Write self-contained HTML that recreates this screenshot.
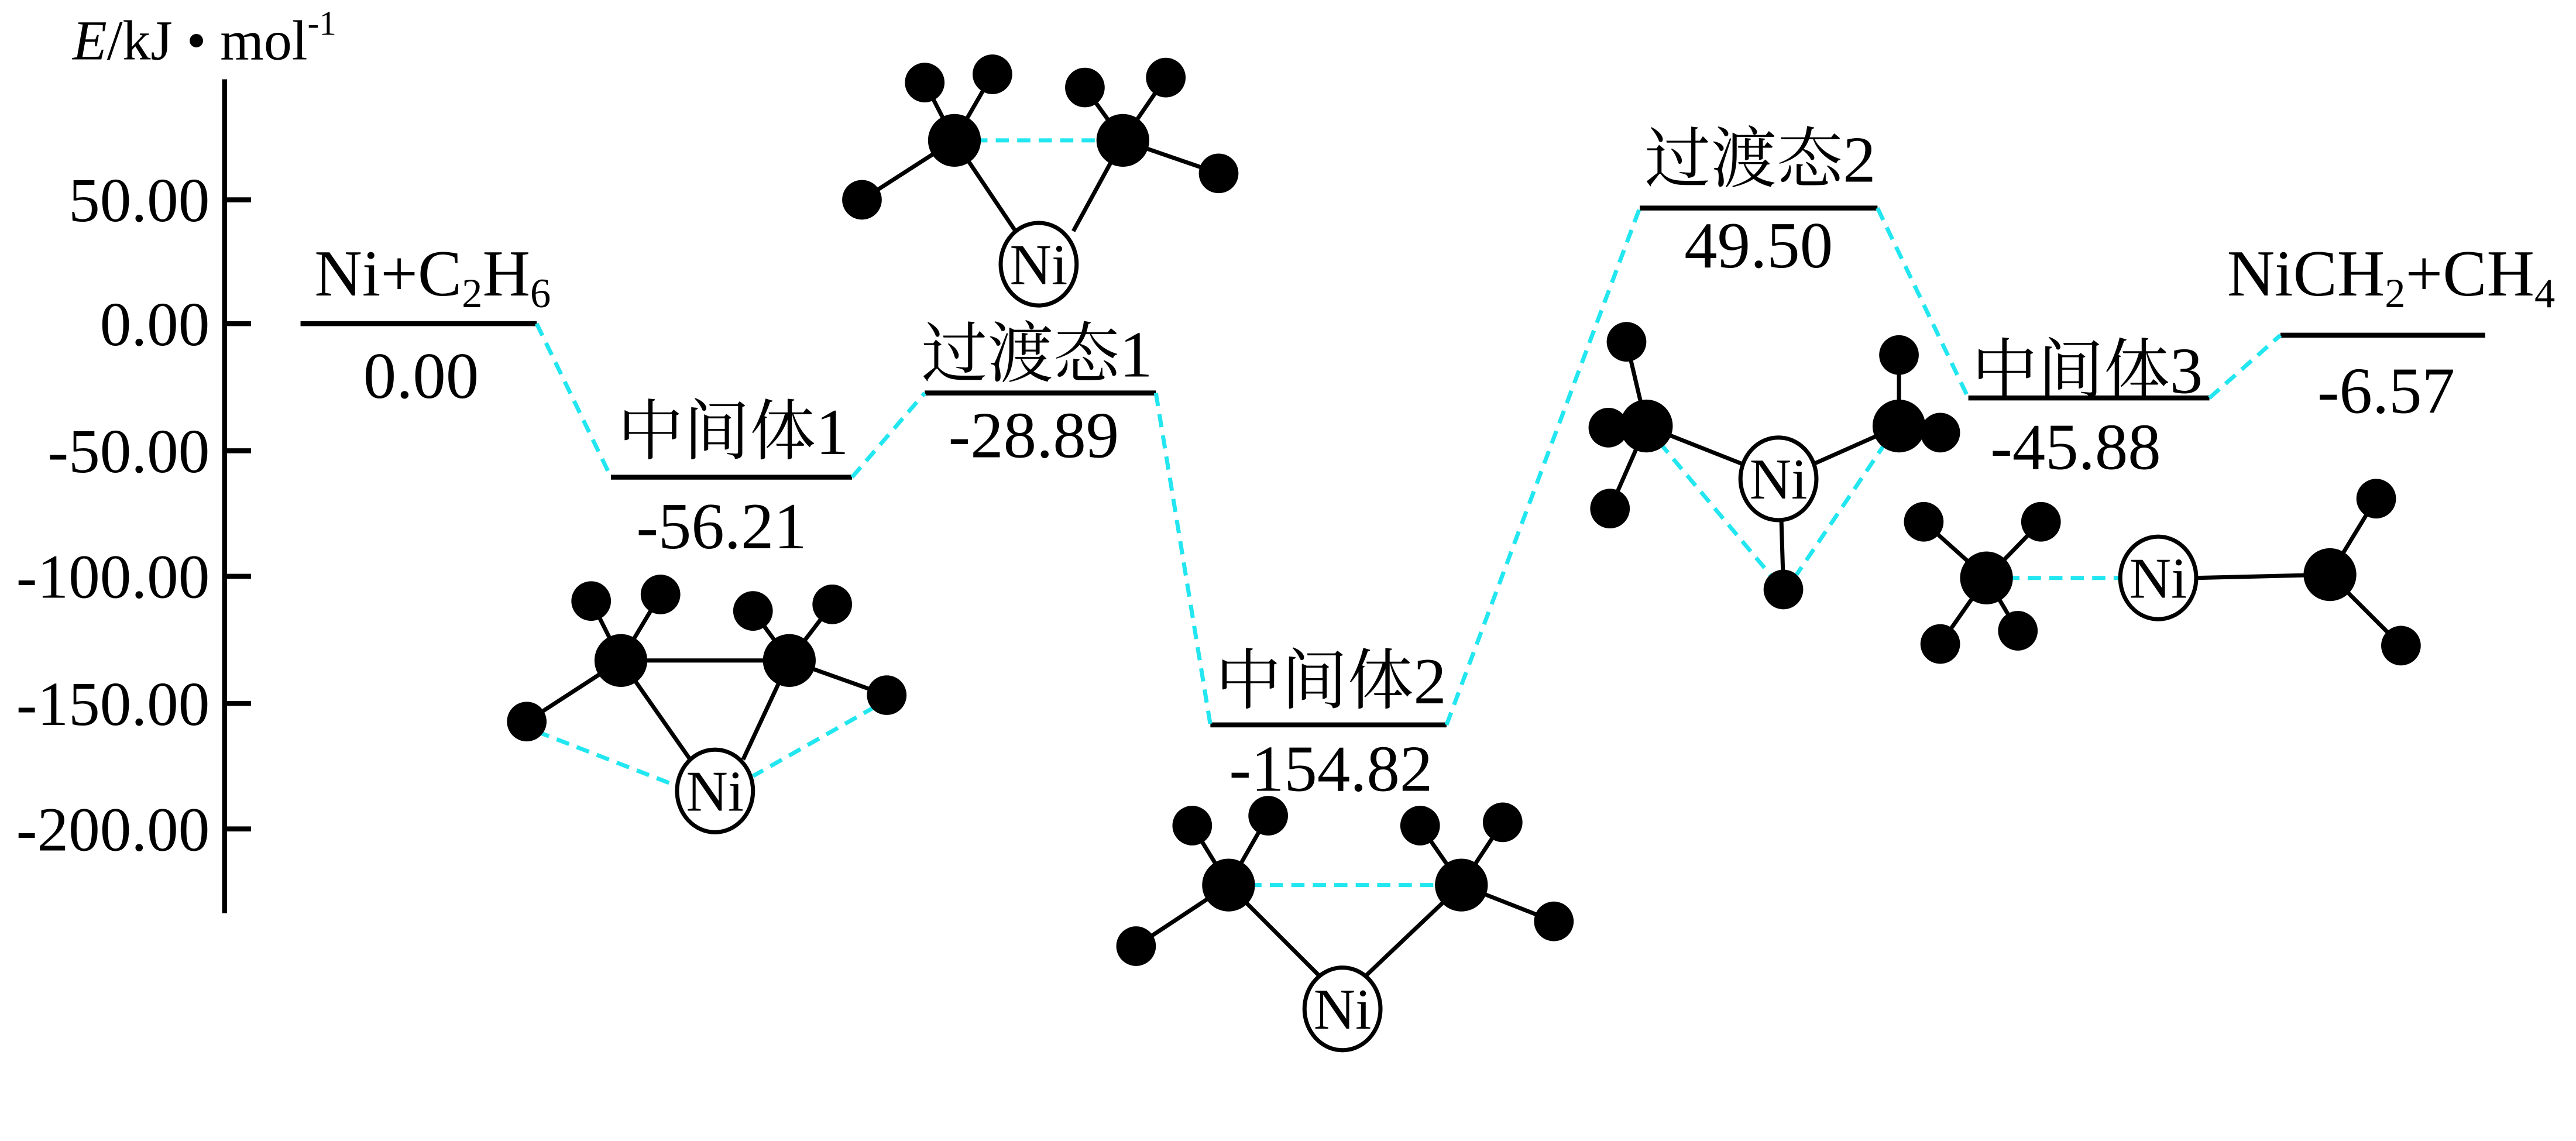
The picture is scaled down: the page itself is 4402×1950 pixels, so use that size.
<!DOCTYPE html>
<html><head><meta charset="utf-8"><style>
html,body{margin:0;padding:0;background:#fff;}
svg{display:block;}
text{font-family:"Liberation Serif","Noto Serif CJK SC","Noto Sans CJK SC",serif;fill:#000;}
.num{font-family:"Liberation Serif",serif;}
</style></head><body>
<svg width="4402" height="1950" viewBox="0 0 1560 691" preserveAspectRatio="none" xmlns="http://www.w3.org/2000/svg">
<rect width="1560" height="691" fill="#fff"/>
<!-- axis -->
<g stroke="#000" stroke-width="3">
<line x1="136" y1="48" x2="136" y2="553"/>
<line x1="136" y1="121" x2="152" y2="121"/>
<line x1="136" y1="196" x2="152" y2="196"/>
<line x1="136" y1="273" x2="152" y2="273"/>
<line x1="136" y1="349" x2="152" y2="349"/>
<line x1="136" y1="426" x2="152" y2="426"/>
<line x1="136" y1="502" x2="152" y2="502"/>
</g>
<g font-size="38" text-anchor="end" class="num">
<text class="num" x="127" y="134">50.00</text>
<text class="num" x="127" y="209">0.00</text>
<text class="num" x="127" y="286">-50.00</text>
<text class="num" x="127" y="362">-100.00</text>
<text class="num" x="127" y="439">-150.00</text>
<text class="num" x="127" y="515">-200.00</text>
</g>
<text x="44" y="36" font-size="34"><tspan font-style="italic">E</tspan>/kJ • mol<tspan font-size="21" dy="-15">-1</tspan></text>

<!-- levels -->
<g stroke="#000" stroke-width="3">
<line x1="182" y1="196" x2="325" y2="196"/>
<line x1="370" y1="289" x2="516" y2="289"/>
<line x1="560" y1="238" x2="700" y2="238"/>
<line x1="733" y1="439" x2="876" y2="439"/>
<line x1="993" y1="126" x2="1137" y2="126"/>
<line x1="1192" y1="241" x2="1338" y2="241"/>
<line x1="1381" y1="203" x2="1505" y2="203"/>
</g>
<g stroke="#22e6f0" stroke-width="2.5" stroke-dasharray="8,5" fill="none">
<line x1="325" y1="196" x2="370" y2="289"/>
<line x1="516" y1="289" x2="560" y2="238"/>
<line x1="700" y1="238" x2="733" y2="439"/>
<line x1="876" y1="439" x2="993" y2="126"/>
<line x1="1137" y1="126" x2="1192" y2="241"/>
<line x1="1338" y1="241" x2="1381" y2="203"/>
</g>
<g font-size="40" text-anchor="middle">
<text x="262" y="179">Ni+C<tspan font-size="25" dy="7">2</tspan><tspan dy="-7">H</tspan><tspan font-size="25" dy="7">6</tspan></text>
<text class="num" x="255" y="241">0.00</text>
<text x="444" y="275">中间体1</text>
<text class="num" x="437" y="332">-56.21</text>
<text x="628" y="228">过渡态1</text>
<text class="num" x="626" y="277">-28.89</text>
<text x="806" y="426">中间体2</text>
<text class="num" x="806" y="479">-154.82</text>
<text x="1066" y="110">过渡态2</text>
<text class="num" x="1065" y="162">49.50</text>
<text x="1264" y="238">中间体3</text>
<text class="num" x="1257" y="284">-45.88</text>
<text x="1448" y="179">NiCH<tspan font-size="25" dy="7">2</tspan><tspan dy="-7">+CH</tspan><tspan font-size="25" dy="7">4</tspan></text>
<text class="num" x="1445" y="250">-6.57</text>
</g>

<!-- molecule TS1 -->
<g stroke="#000" stroke-width="2.5">
<line x1="578" y1="85" x2="522" y2="121"/><line x1="578" y1="85" x2="560" y2="50"/><line x1="578" y1="85" x2="601" y2="45"/>
<line x1="680" y1="85" x2="738" y2="105"/><line x1="680" y1="85" x2="657" y2="53"/><line x1="680" y1="85" x2="706" y2="47"/>
<line x1="578" y1="85" x2="615" y2="140"/><line x1="680" y1="85" x2="650" y2="140"/>
</g>
<line x1="590" y1="85" x2="668" y2="85" stroke="#22e6f0" stroke-width="2.5" stroke-dasharray="8,5"/>
<g fill="#000">
<circle cx="578" cy="85" r="16"/><circle cx="680" cy="85" r="16"/>
<circle cx="560" cy="50" r="12"/><circle cx="601" cy="45" r="12"/><circle cx="657" cy="53" r="12"/><circle cx="706" cy="47" r="12"/>
<circle cx="522" cy="121" r="12"/><circle cx="738" cy="105" r="12"/>
</g>
<ellipse cx="629" cy="160" rx="23" ry="25" fill="#fff" stroke="#000" stroke-width="2.5"/>
<text x="629" y="172" font-size="35" text-anchor="middle">Ni</text>

<!-- molecule L1 -->
<g stroke="#000" stroke-width="2.5">
<line x1="376" y1="400" x2="478" y2="400"/>
<line x1="376" y1="400" x2="319" y2="437"/><line x1="376" y1="400" x2="358" y2="364"/><line x1="376" y1="400" x2="400" y2="360"/>
<line x1="478" y1="400" x2="537" y2="421"/><line x1="478" y1="400" x2="456" y2="370"/><line x1="478" y1="400" x2="504" y2="366"/>
<line x1="376" y1="400" x2="418" y2="460"/><line x1="478" y1="400" x2="450" y2="460"/>
</g>
<g stroke="#22e6f0" stroke-width="2.5" stroke-dasharray="8,5">
<line x1="325" y1="443" x2="410" y2="476"/><line x1="530" y1="428" x2="456" y2="470"/>
</g>
<g fill="#000">
<circle cx="376" cy="400" r="16"/><circle cx="478" cy="400" r="16"/>
<circle cx="358" cy="364" r="12"/><circle cx="400" cy="360" r="12"/><circle cx="456" cy="370" r="12"/><circle cx="504" cy="366" r="12"/>
<circle cx="319" cy="437" r="12"/><circle cx="537" cy="421" r="12"/>
</g>
<ellipse cx="433" cy="479" rx="23" ry="25" fill="#fff" stroke="#000" stroke-width="2.5"/>
<text x="433" y="491" font-size="35" text-anchor="middle">Ni</text>

<!-- molecule L2 -->
<g stroke="#000" stroke-width="2.5">
<line x1="744" y1="536" x2="688" y2="573"/><line x1="744" y1="536" x2="722" y2="500"/><line x1="744" y1="536" x2="768" y2="494"/>
<line x1="885" y1="536" x2="941" y2="558"/><line x1="885" y1="536" x2="860" y2="500"/><line x1="885" y1="536" x2="910" y2="498"/>
<line x1="744" y1="536" x2="800" y2="592"/><line x1="885" y1="536" x2="826" y2="592"/>
</g>
<line x1="756" y1="536" x2="873" y2="536" stroke="#22e6f0" stroke-width="2.5" stroke-dasharray="8,5"/>
<g fill="#000">
<circle cx="744" cy="536" r="16"/><circle cx="885" cy="536" r="16"/>
<circle cx="722" cy="500" r="12"/><circle cx="768" cy="494" r="12"/><circle cx="860" cy="500" r="12"/><circle cx="910" cy="498" r="12"/>
<circle cx="688" cy="573" r="12"/><circle cx="941" cy="558" r="12"/>
</g>
<ellipse cx="813" cy="611" rx="23" ry="25" fill="#fff" stroke="#000" stroke-width="2.5"/>
<text x="813" y="623" font-size="35" text-anchor="middle">Ni</text>

<!-- molecule TS2 -->
<g stroke="#000" stroke-width="2.5">
<line x1="997" y1="258" x2="985" y2="207"/><line x1="997" y1="258" x2="975" y2="308"/>
<line x1="1150" y1="258" x2="1150" y2="215"/>
<line x1="997" y1="258" x2="1078" y2="290"/><line x1="1150" y1="258" x2="1078" y2="290"/>
<line x1="1078" y1="290" x2="1080" y2="355"/>
</g>
<g stroke="#22e6f0" stroke-width="2.5" stroke-dasharray="8,5">
<line x1="1005" y1="268" x2="1072" y2="348"/><line x1="1142" y1="268" x2="1088" y2="348"/>
</g>
<g fill="#000">
<circle cx="974" cy="259" r="12"/><circle cx="997" cy="258" r="16"/>
<circle cx="985" cy="207" r="12"/><circle cx="975" cy="308" r="12"/>
<circle cx="1175" cy="262" r="12"/><circle cx="1150" cy="258" r="16"/>
<circle cx="1150" cy="215" r="12"/><circle cx="1080" cy="357" r="12"/>
</g>
<ellipse cx="1077" cy="290" rx="23" ry="25" fill="#fff" stroke="#000" stroke-width="2.5"/>
<text x="1077" y="302" font-size="35" text-anchor="middle">Ni</text>

<!-- molecule L3 -->
<g stroke="#000" stroke-width="2.5">
<line x1="1203" y1="350" x2="1165" y2="316"/><line x1="1203" y1="350" x2="1236" y2="316"/>
<line x1="1203" y1="350" x2="1175" y2="390"/><line x1="1203" y1="350" x2="1222" y2="382"/>
<line x1="1330" y1="350" x2="1411" y2="348"/>
<line x1="1411" y1="348" x2="1439" y2="302"/><line x1="1411" y1="348" x2="1454" y2="391"/>
</g>
<line x1="1215" y1="350" x2="1284" y2="350" stroke="#22e6f0" stroke-width="2.5" stroke-dasharray="8,5"/>
<g fill="#000">
<circle cx="1203" cy="350" r="16"/>
<circle cx="1165" cy="316" r="12"/><circle cx="1236" cy="316" r="12"/><circle cx="1175" cy="390" r="12"/><circle cx="1222" cy="382" r="12"/>
<circle cx="1411" cy="348" r="16"/><circle cx="1439" cy="302" r="12"/><circle cx="1454" cy="391" r="12"/>
</g>
<ellipse cx="1307" cy="350" rx="23" ry="25" fill="#fff" stroke="#000" stroke-width="2.5"/>
<text x="1307" y="362" font-size="35" text-anchor="middle">Ni</text>
</svg>
</body></html>
